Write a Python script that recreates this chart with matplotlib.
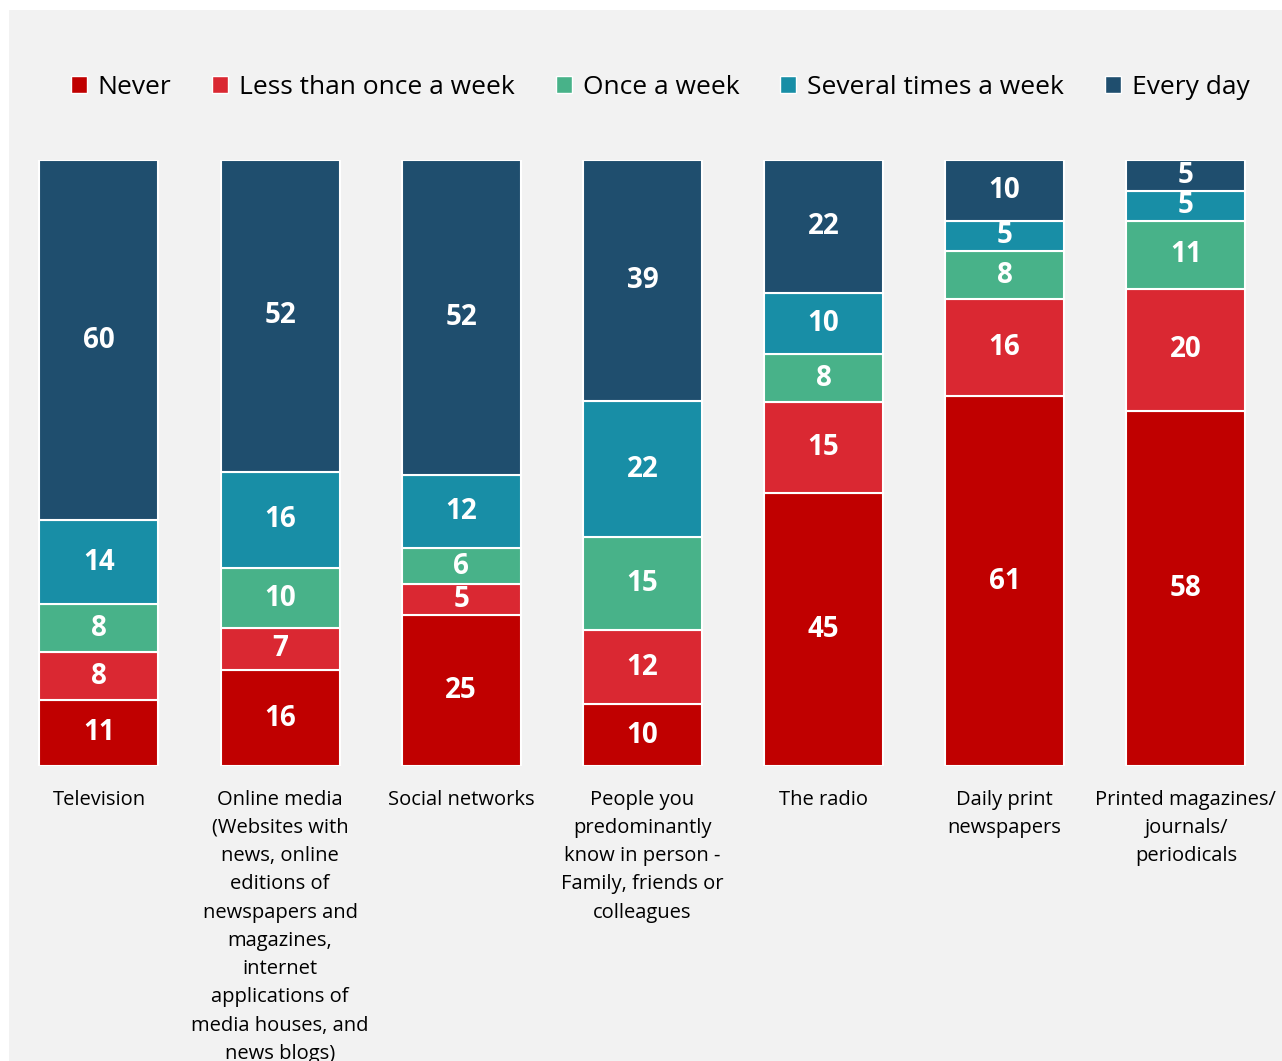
import numpy as np
import matplotlib.pyplot as plt
from matplotlib.patches import Rectangle

plt.rcParams['font.family'] = ['Open Sans', 'DejaVu Sans']

categories = [
    'Television',
    'Online media\n(Websites with\nnews, online\neditions of\nnewspapers and\nmagazines,\ninternet\napplications of\nmedia houses, and\nnews blogs)',
    'Social networks',
    'People you\npredominantly\nknow in person -\nFamily, friends or\ncolleagues',
    'The radio',
    'Daily print\nnewspapers',
    'Printed magazines/\njournals/\nperiodicals',
]
series = ['Never', 'Less than once a week', 'Once a week', 'Several times a week', 'Every day']
never = [11, 16, 25, 10, 45, 61, 58]
less_weekly = [8, 7, 5, 12, 15, 16, 20]
once_weekly = [8, 10, 6, 15, 8, 8, 11]
several_weekly = [14, 16, 12, 22, 10, 5, 5]
every_day = [60, 52, 52, 39, 22, 10, 5]
colors = ['#c00000', '#da2832', '#48b289', '#188ea6', '#1f4e6e']

values = np.array([never, less_weekly, once_weekly, several_weekly, every_day], dtype=float)
shares = values / values.sum(axis=0) * 100  # 100% stacked

W, H = 1282, 1061
fig = plt.figure(figsize=(W / 100, H / 100), dpi=100)
fig.patch.set_facecolor('white')
fig.patches.append(Rectangle((9 / W, -0.01), 1, 1.01 - 10 / H, transform=fig.transFigure,
                             facecolor='#f2f2f2', edgecolor='none', zorder=-1))

ax = fig.add_axes([8.4 / W, (H - 766) / H, 1268 / W, 606 / H])
ax.set_facecolor('none')
x = np.arange(len(categories))
bottom = np.zeros(len(categories))
for i, name in enumerate(series):
    bars = ax.bar(x, shares[i], bottom=bottom, width=0.657, color=colors[i],
                  edgecolor='white', linewidth=1.5, label=name)
    for xi, b, h, v in zip(x, bottom, shares[i], values[i]):
        ax.text(xi, b + h / 2, f'{int(v)}', ha='center', va='center', color='white',
                fontsize=20, fontweight='bold')
    bottom += shares[i]

ax.set_xlim(-0.5, 6.5)
ax.set_ylim(0, 100)
ax.set_yticks([])
ax.set_xticks(x)
ax.set_xticklabels(categories, fontsize=14.5, linespacing=1.55, va='top')
ax.tick_params(axis='x', length=0, pad=17)
for s in ax.spines.values():
    s.set_visible(False)

leg = fig.legend(loc='center', bbox_to_anchor=(660 / W, 1 - 87 / H), ncol=5, frameon=False,
                 fontsize=19, handlelength=0.62, handleheight=0.62, handletextpad=0.4,
                 columnspacing=1.55)
for h in leg.legend_handles:
    h.set_edgecolor('white')
    h.set_linewidth(1)

fig.savefig('out.png', dpi=100, facecolor=fig.get_facecolor())
